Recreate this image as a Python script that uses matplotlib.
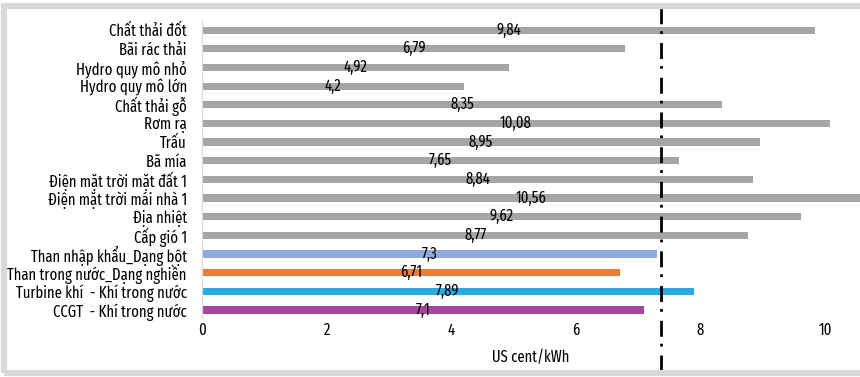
import matplotlib
matplotlib.use("Agg")
import matplotlib.pyplot as plt
import matplotlib.transforms as mtransforms
from matplotlib.patches import Rectangle

plt.rcParams['font.family'] = ['Fira Sans Extra Condensed', 'Roboto Condensed', 'DejaVu Sans']
plt.rcParams['lines.scale_dashes'] = False

categories = [
    "Chất thải đốt", "Bãi rác thải", "Hydro quy mô nhỏ", "Hydro quy mô lớn",
    "Chất thải gỗ", "Rơm rạ", "Trấu", "Bã mía",
    "Điện mặt trời mặt đất 1", "Điện mặt trời mái nhà 1", "Địa nhiệt", "Cấp gió 1",
    "Than nhập khẩu_Dạng bột", "Than trong nước_Dạng nghiền",
    "Turbine khí  - Khí trong nước", "CCGT  - Khí trong nước",
]
values = [9.84, 6.79, 4.92, 4.2, 8.35, 10.08, 8.95, 7.65,
          8.84, 10.56, 9.62, 8.77, 7.3, 6.71, 7.89, 7.1]
labels = ["9,84", "6,79", "4,92", "4,2", "8,35", "10,08", "8,95", "7,65",
          "8,84", "10,56", "9,62", "8,77", "7,3", "6,71", "7,89", "7,1"]
colors = ["#a5a5a5"] * 12 + ["#8faadc", "#ed7d31", "#29abe2", "#a5469b"]
threshold = 7.36

fig = plt.figure(figsize=(8.6, 3.77), dpi=100)
ax = fig.add_axes([0.235, 0.153, 0.765, 0.792])

y = list(range(len(categories)))
ax.barh(y, values, height=0.38, color=colors, zorder=2)
for yi, v, lab in zip(y, values, labels):
    ax.text(v / 2, yi, lab, ha="center", va="center", fontsize=11.5, zorder=3)

ax.set_yticks(y)
ax.set_yticklabels(categories, fontsize=11.5)
ax.set_ylim(len(categories) - 0.5, -0.5)
ax.set_xlim(0, 10.56)
ax.set_xticks([0, 2, 4, 6, 8, 10])
ax.set_xticklabels(["0", "2", "4", "6", "8", "10"], fontsize=11.5)
ax.tick_params(axis="y", length=0, pad=11)
ax.tick_params(axis="x", length=0, pad=2)
ax.set_xlabel("US cent/kWh", fontsize=11.5, labelpad=8)

for s in ["top", "right", "bottom"]:
    ax.spines[s].set_visible(False)
ax.spines["left"].set_color("#d9d9d9")

# dash-dot reference line across the whole figure height
trans = mtransforms.blended_transform_factory(ax.transData, fig.transFigure)
ax.plot([threshold, threshold], [0.015, 0.98], transform=trans, color="black",
        lw=2.0, dashes=(11.5, 6.5, 2, 5), clip_on=False, zorder=4)

# light grey frame
fig.patches.append(Rectangle((0.005, 0.01), 1.2, 0.975, transform=fig.transFigure,
                             fill=False, edgecolor="#d9d9d9", lw=4.5))

fig.savefig("out.png", dpi=100)
